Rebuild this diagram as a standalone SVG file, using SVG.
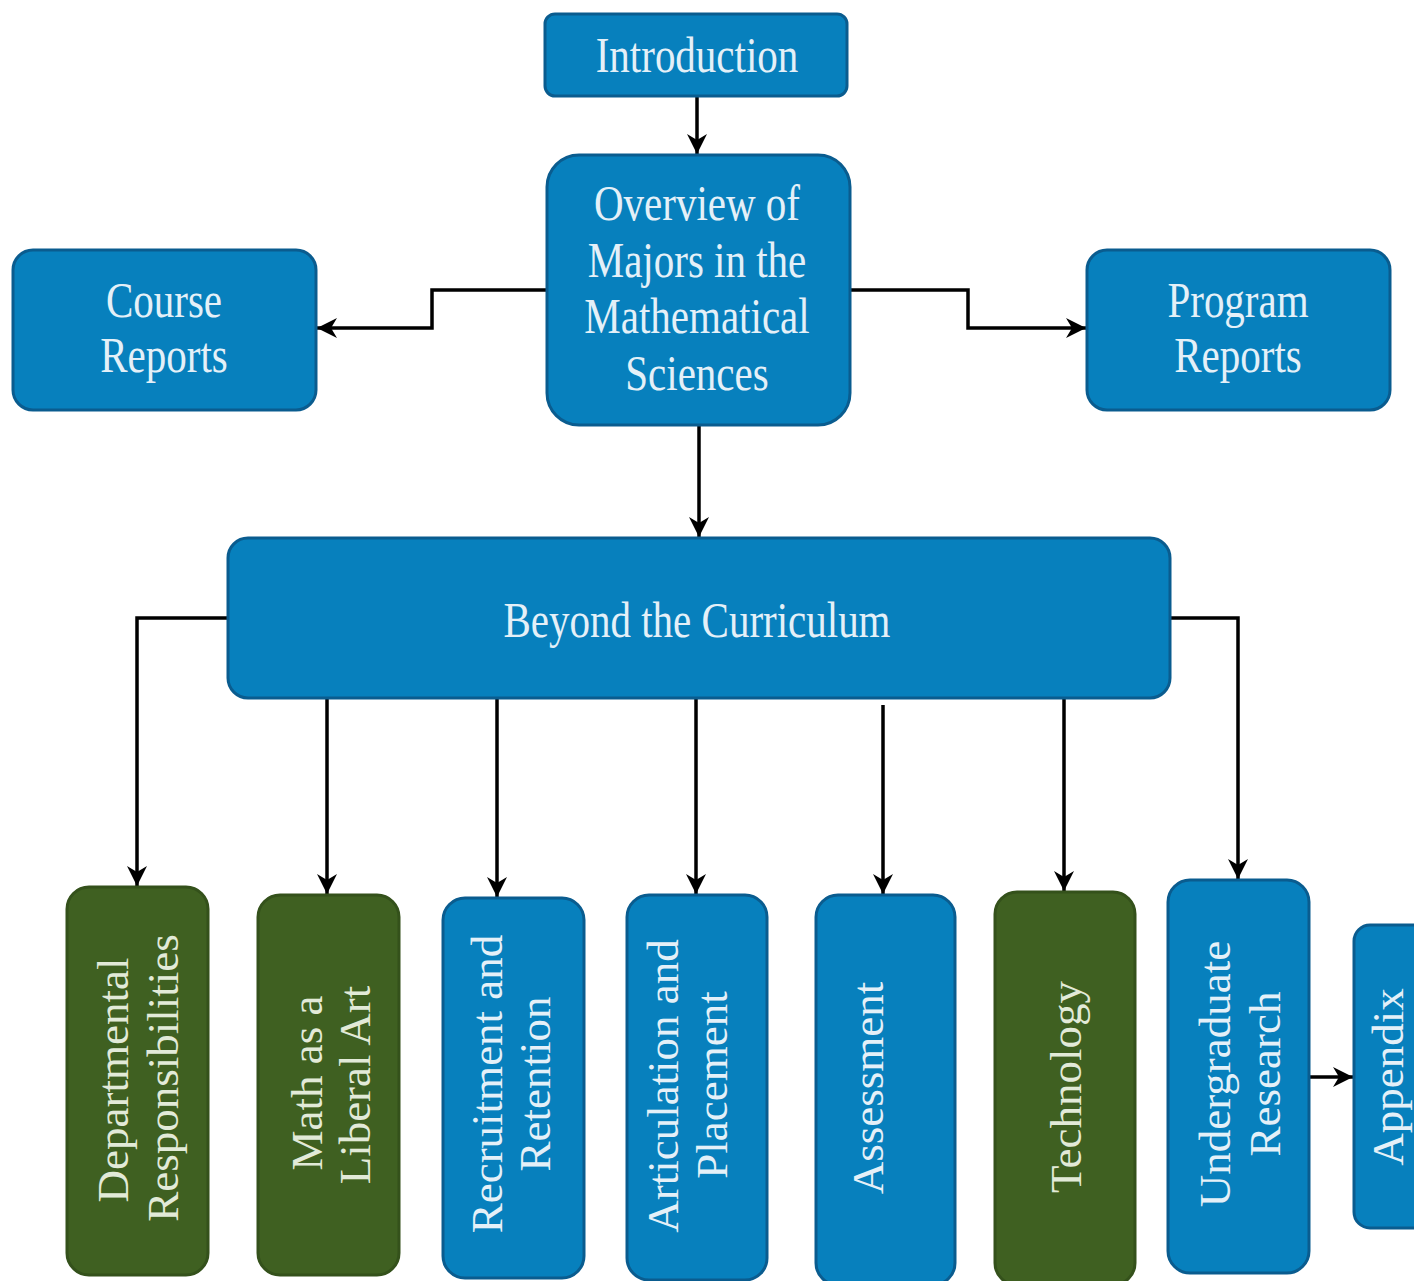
<svg xmlns="http://www.w3.org/2000/svg" width="1414" height="1281" viewBox="0 0 1414 1281">
<defs>
<style>
.blue{fill:#0780BD;stroke:#0A5C8F;stroke-width:3}
.green{fill:#3F6021;stroke:#34511B;stroke-width:3}
.ht{font-family:"Liberation Serif","Times New Roman",serif;font-size:41px;fill:#E4F0F8;text-anchor:middle}
.vt{font-family:"Liberation Serif","Times New Roman",serif;font-size:45px;fill:#E4F0F8;text-anchor:middle}
.vg{fill:#E2EAD8}
.conn{fill:none;stroke:#000;stroke-width:3.5}
</style>
<marker id="arr" markerUnits="userSpaceOnUse" markerWidth="24" markerHeight="24" viewBox="0 0 24 24" refX="22" refY="12" orient="auto">
<path d="M2,2 L22,12 L2,22 L8,12 Z" fill="#000"/>
</marker>
</defs>
<rect width="1414" height="1281" fill="#FFFFFF"/>

<g id="connectors">
<line class="conn" x1="697" y1="96" x2="697" y2="154" marker-end="url(#arr)"/>
<polyline class="conn" points="547,290 432,290 432,328 317,328" marker-end="url(#arr)"/>
<polyline class="conn" points="850,290 968,290 968,328 1086,328" marker-end="url(#arr)"/>
<line class="conn" x1="699" y1="425" x2="699" y2="537" marker-end="url(#arr)"/>
<polyline class="conn" points="228,618 137,618 137,886" marker-end="url(#arr)"/>
<line class="conn" x1="327" y1="698" x2="327" y2="894" marker-end="url(#arr)"/>
<line class="conn" x1="497" y1="698" x2="497" y2="897" marker-end="url(#arr)"/>
<line class="conn" x1="696" y1="698" x2="696" y2="894" marker-end="url(#arr)"/>
<line class="conn" x1="883" y1="705" x2="883" y2="894" marker-end="url(#arr)"/>
<line class="conn" x1="1064" y1="698" x2="1064" y2="891" marker-end="url(#arr)"/>
<polyline class="conn" points="1170,618 1238,618 1238,879" marker-end="url(#arr)"/>
<line class="conn" x1="1309" y1="1077" x2="1353" y2="1077" marker-end="url(#arr)"/>
</g>

<g id="introduction">
<rect class="blue" x="545" y="14" width="302" height="82" rx="10"/>
<text class="ht" transform="translate(697,72) scale(1,1.25)">Introduction</text>
</g>

<g id="overview">
<rect class="blue" x="547" y="155" width="303" height="270" rx="32"/>
<text class="ht" transform="translate(697,220) scale(1,1.25)">Overview of</text>
<text class="ht" transform="translate(697,277) scale(1,1.25)">Majors in the</text>
<text class="ht" transform="translate(697,333) scale(1,1.25)">Mathematical</text>
<text class="ht" transform="translate(697,390) scale(1,1.25)">Sciences</text>
</g>

<g id="course-reports">
<rect class="blue" x="13" y="250" width="303" height="160" rx="20"/>
<text class="ht" transform="translate(164,317) scale(1,1.25)">Course</text>
<text class="ht" transform="translate(164,372) scale(1,1.25)">Reports</text>
</g>

<g id="program-reports">
<rect class="blue" x="1087" y="250" width="303" height="160" rx="20"/>
<text class="ht" transform="translate(1238,317) scale(1,1.25)">Program</text>
<text class="ht" transform="translate(1238,372) scale(1,1.25)">Reports</text>
</g>

<g id="beyond">
<rect class="blue" x="228" y="538" width="942" height="160" rx="20"/>
<text class="ht" transform="translate(697,637) scale(1,1.25)">Beyond the Curriculum</text>
</g>

<g id="departmental">
<rect class="green" x="67" y="887" width="141" height="388" rx="22"/>
<text class="vt vg" transform="translate(128,1080) rotate(-90)">Departmental</text>
<text class="vt vg" transform="translate(178,1078) rotate(-90)">Responsibilities</text>
</g>

<g id="math-liberal-art">
<rect class="green" x="258" y="895" width="141" height="380" rx="22"/>
<text class="vt vg" transform="translate(322,1083) rotate(-90)">Math as a</text>
<text class="vt vg" transform="translate(370,1085) rotate(-90)">Liberal Art</text>
</g>

<g id="recruitment">
<rect class="blue" x="443" y="898" width="141" height="380" rx="22"/>
<text class="vt" transform="translate(502,1084) rotate(-90)">Recruitment and</text>
<text class="vt" transform="translate(550,1084) rotate(-90)">Retention</text>
</g>

<g id="articulation">
<rect class="blue" x="627" y="895" width="140" height="385" rx="22"/>
<text class="vt" transform="translate(678,1086) rotate(-90)">Articulation and</text>
<text class="vt" transform="translate(727,1085) rotate(-90)">Placement</text>
</g>

<g id="assessment">
<rect class="blue" x="816" y="895" width="139" height="390" rx="22"/>
<text class="vt" transform="translate(883,1088) rotate(-90)">Assessment</text>
</g>

<g id="technology">
<rect class="green" x="995" y="892" width="140" height="393" rx="22"/>
<text class="vt vg" transform="translate(1081,1087) rotate(-90)">Technology</text>
</g>

<g id="undergraduate-research">
<rect class="blue" x="1168" y="880" width="141" height="393" rx="22"/>
<text class="vt" transform="translate(1230,1074) rotate(-90)">Undergraduate</text>
<text class="vt" transform="translate(1280,1074) rotate(-90)">Research</text>
</g>

<g id="appendix">
<rect class="blue" x="1354" y="925" width="90" height="303" rx="16"/>
<text class="vt" transform="translate(1403,1077) rotate(-90)">Appendix</text>
</g>
</svg>
